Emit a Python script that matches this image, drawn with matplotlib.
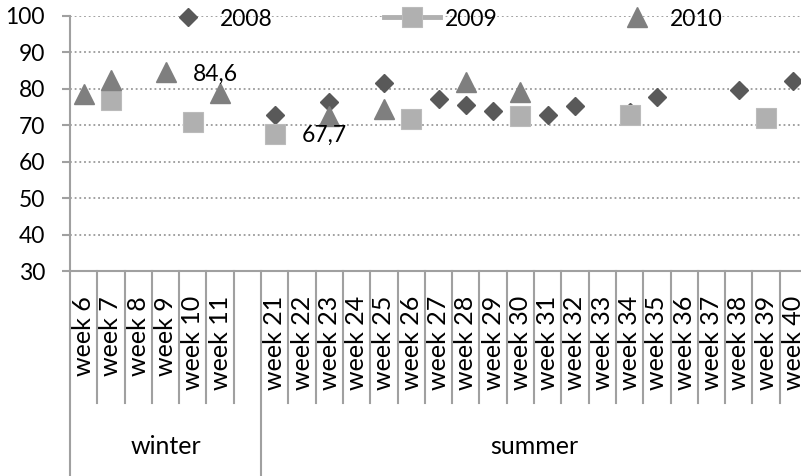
import matplotlib
matplotlib.use('Agg')
import matplotlib.pyplot as plt
import numpy as np
from matplotlib.lines import Line2D
from matplotlib.transforms import blended_transform_factory

# ---------------- data ----------------
categories = ['week 6', 'week 7', 'week 8', 'week 9', 'week 10', 'week 11', '',
              'week 21', 'week 22', 'week 23', 'week 24', 'week 25', 'week 26',
              'week 27', 'week 28', 'week 29', 'week 30', 'week 31', 'week 32',
              'week 33', 'week 34', 'week 35', 'week 36', 'week 37', 'week 38',
              'week 39', 'week 40']
groups = ['winter', 'summer']
group_sizes = [7, 20]

N = None
s2008 = [N, N, N, N, N, N, N,
         72.8, N, 76.5, N, 81.6, N, 77.1, 75.6, 73.9, N, 72.8, 75.3,
         N, 73.6, 77.9, N, N, 79.7, N, 82.2]
s2009 = [N, 77.0, N, N, 71.0, N, N,
         67.7, N, N, N, N, 71.6, N, N, N, 72.6, N, N,
         N, 72.8, N, N, N, N, 72.1, N]
s2010 = [78.5, 82.4, N, 84.6, N, 79.0, N,
         N, N, 72.6, N, 74.5, N, N, 81.9, N, 79.1, N, N,
         N, N, N, N, N, N, N, N]
series_names = ['2008', '2009', '2010']
labelled = [('2010', 'week 9'), ('2009', 'week 21')]
y_ticks = [30, 40, 50, 60, 70, 80, 90, 100]

c08, c09, c10 = '#595959', '#B0B0B0', '#7F7F7F'
axis_col = '#A0A0A0'

plt.rcParams['font.family'] = ['Lato', 'DejaVu Sans']
W, H = 801, 476
fig = plt.figure(figsize=(W / 100, H / 100), dpi=100)
ax = fig.add_axes([70 / W, (H - 271) / H, (807 - 70) / W, 255 / H])

n = len(categories)
x = np.arange(n)
ax.set_xlim(-0.5, n - 0.5)
ax.set_ylim(y_ticks[0], y_ticks[-1])
ax.set_yticks(y_ticks)
ax.tick_params(axis='y', labelsize=16.5, length=6, width=1.5, color=axis_col, pad=12)
ax.yaxis.grid(True, linestyle=(0, (1, 1.6)), color='#9A9A9A', lw=1.3)
ax.set_axisbelow(True)

for s in ['top', 'right']:
    ax.spines[s].set_visible(False)
for s in ['left', 'bottom']:
    ax.spines[s].set_color(axis_col)
    ax.spines[s].set_linewidth(1.5)

ax.set_xticks(x)
ax.set_xticklabels(categories, rotation=90, fontsize=18)
ax.tick_params(axis='x', length=0, pad=18)

def arr(v):
    return np.array([np.nan if a is None else a for a in v], dtype=float)

data = {'2008': arr(s2008), '2009': arr(s2009), '2010': arr(s2010)}
styles = {'2008': dict(marker='D', ms=9.2, color=c08),
          '2009': dict(marker='s', ms=15, color=c09, mec='#BBBBBB', mew=0.8),
          '2010': dict(marker='^', ms=15, color=c10)}
for z, name in enumerate(series_names):
    ax.plot(x, data[name], ls='none', zorder=3 + z, clip_on=False, **styles[name])

for name, cat in labelled:
    i = categories.index(cat)
    v = data[name][i]
    ax.annotate(f'{v:.1f}'.replace('.', ','), (i, v), xytext=(19.5, -1.5),
                textcoords='offset points', ha='left', va='center', fontsize=16.5,
                zorder=10)

# category separators and group separators
tr = blended_transform_factory(ax.transData, ax.transAxes)
group_bounds = set(np.cumsum([0] + group_sizes) - 0.5)
for b in np.arange(n + 1) - 0.5:
    low = -0.804 if b in group_bounds else -0.518
    ax.plot([b, b], [0, low], color=axis_col, lw=1.5, transform=tr, clip_on=False)

start = 0
for g, size in zip(groups, group_sizes):
    center = start + size / 2 - 0.5
    ax.text(center, -0.69, g, transform=tr, ha='center', va='center', fontsize=18)
    start += size

handles = [Line2D([], [], ls='none', **styles['2008']),
           Line2D([], [], ls='-', lw=3.5, **styles['2009']),
           Line2D([], [], ls='none', **styles['2010'])]
fig.legend(handles, series_names, loc='center left',
           bbox_to_anchor=(159.5 / W, 1 - 19 / H), ncol=3, frameon=False,
           fontsize=16.5, handlelength=2.45, handletextpad=0.2, columnspacing=4.85,
           borderpad=0, borderaxespad=0, numpoints=1)

fig.savefig('out.png', dpi=100)
